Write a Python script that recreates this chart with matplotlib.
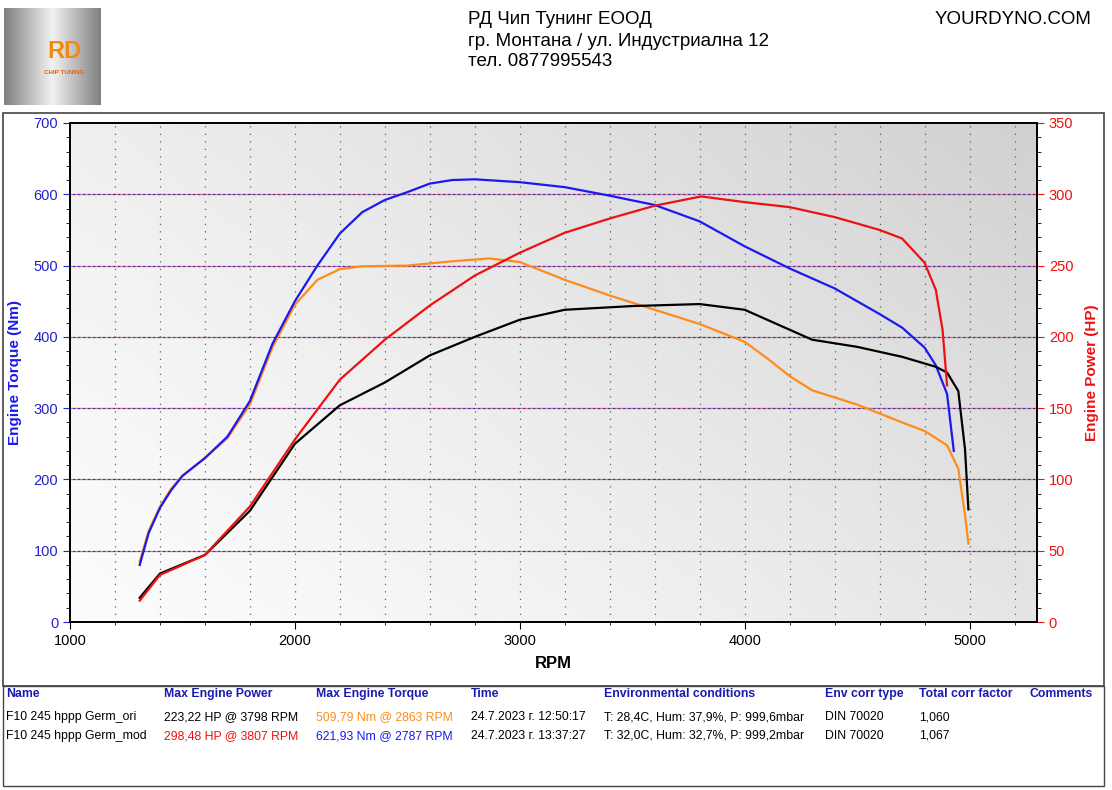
import numpy as np
import matplotlib.pyplot as plt
from matplotlib.patches import Rectangle

# mod torque (Nm)
mod_tq_rpm = [1310, 1350, 1400, 1450, 1500, 1600, 1700, 1800, 1900, 2000, 2100, 2200, 2300, 2400, 2500, 2600, 2700,
              2800, 2900, 3000, 3200, 3400, 3600, 3800, 4000, 4200, 4400, 4600, 4700, 4800, 4850, 4900, 4930]
mod_tq = [80, 125, 160, 185, 205, 230, 260, 310, 390, 450, 500, 545, 575, 592, 603, 615, 620,
          621, 619, 617, 610, 598, 585, 562, 527, 496, 468, 432, 413, 385, 360, 320, 240]
# ori torque (Nm)
ori_tq_rpm = [1310, 1350, 1400, 1450, 1500, 1600, 1700, 1800, 1900, 2000, 2100, 2200, 2300, 2500, 2700, 2863, 3000,
              3200, 3400, 3600, 3800, 4000, 4100, 4200, 4300, 4500, 4700, 4800, 4900, 4950, 4980, 4995]
ori_tq = [85, 128, 162, 187, 205, 230, 258, 305, 385, 445, 480, 495, 499, 500, 506, 510, 505,
          480, 458, 438, 418, 393, 370, 345, 325, 305, 280, 268, 248, 215, 150, 110]
# ori power (HP)
ori_hp_rpm = [1310, 1400, 1600, 1800, 2000, 2200, 2400, 2600, 2800, 3000, 3200, 3500, 3800, 4000, 4200, 4300,
              4500, 4700, 4850, 4900, 4950, 4980, 4995]
ori_hp = [17, 34, 47, 78, 125, 152, 168, 187, 200, 212, 219, 221.6, 223, 219, 205, 198, 193, 186, 179, 175, 162, 121, 79]
# mod power (HP)
mod_hp_rpm = [1310, 1400, 1600, 1800, 2000, 2200, 2400, 2600, 2800, 3000, 3200, 3400, 3600, 3807, 4000, 4200,
              4400, 4600, 4700, 4800, 4850, 4880, 4900]
mod_hp = [15, 33, 47, 81, 128, 170, 198, 222, 243, 259, 273, 283, 292, 298.5, 294.5, 291, 284, 275, 269, 252, 233, 205, 166]

header = ["Name", "Max Engine Power", "Max Engine Torque", "Time", "Environmental conditions",
          "Env corr type", "Total corr factor", "Comments"]
rows = [
    ["F10 245 hppp Germ_ori", "223,22 HP @ 3798 RPM", "509,79 Nm @ 2863 RPM", "24.7.2023 г. 12:50:17",
     "T: 28,4C, Hum: 37,9%, P: 999,6mbar", "DIN 70020", "1,060", ""],
    ["F10 245 hppp Germ_mod", "298,48 HP @ 3807 RPM", "621,93 Nm @ 2787 RPM", "24.7.2023 г. 13:37:27",
     "T: 32,0C, Hum: 32,7%, P: 999,2mbar", "DIN 70020", "1,067", ""],
]
col_x = [6, 164, 316, 471, 604, 825, 919, 1029]

plt.rcParams['font.family'] = ['Liberation Sans', 'DejaVu Sans']
fig = plt.figure(figsize=(11.12, 7.9), dpi=100)
W, H = 1112, 790

def fx(x): return x / W
def fy(y): return 1 - y / H

# header
fig.text(fx(468), fy(20), "РД Чип Тунинг ЕООД", fontsize=13.5, va='center')
fig.text(fx(468), fy(41), "гр. Монтана / ул. Индустриална 12", fontsize=13.5, va='center')
fig.text(fx(468), fy(62), "тел. 0877995543", fontsize=13.5, va='center')
fig.text(fx(1091), fy(20), "YOURDYNO.COM", fontsize=13.5, va='center', ha='right')

# logo
lax = fig.add_axes([fx(4), fy(105), 97 / W, 97 / H])
g = np.abs(np.linspace(-1, 1, 100))[None, :] * np.ones((100, 1))
lax.imshow(0.95 - 0.45 * g, cmap='gray', vmin=0, vmax=1, extent=[0, 1, 0, 1], aspect='auto')
lax.text(0.62, 0.55, "RD", color='#f08a10', fontsize=17, fontweight='bold', ha='center', va='center')
lax.text(0.62, 0.33, "CHIP TUNING", color='#e06010', fontsize=4.5, fontweight='bold', ha='center', va='center')
lax.axis('off')

# frames
fig.patches.append(Rectangle((fx(3), fy(686)), 1101 / W, 573 / H, transform=fig.transFigure,
                             fill=False, edgecolor='#444444', lw=1.2))
fig.patches.append(Rectangle((fx(3), fy(786)), 1101 / W, 100 / H, transform=fig.transFigure,
                             fill=False, edgecolor='#444444', lw=1.0))

ax = fig.add_axes([fx(70), fy(622), 967 / W, 499 / H])
ax.set_xlim(1000, 5300)
ax.set_ylim(0, 700)
# background gradient
xx, yy = np.meshgrid(np.linspace(0, 1, 200), np.linspace(0, 1, 200))
bg = 0.985 - 0.17 * (0.6 * xx + 0.4 * (1 - yy)) ** 1.3
ax.imshow(bg, cmap='gray', vmin=0, vmax=1, extent=[0, 1, 0, 1], transform=ax.transAxes,
          aspect='auto', origin='upper', zorder=0)

for r in range(1200, 5300, 200):
    ax.axvline(r, color='#556655', ls=(0, (1, 5)), lw=0.9, zorder=1)
for t in range(100, 700, 100):
    ax.axhline(t, color='#ee6688', ls=(0, (2, 2)), lw=0.9, zorder=1)
    ax.axhline(t, color='#3333aa', ls=(2, (2, 2)), lw=0.9, zorder=1)

ax.plot(ori_tq_rpm, ori_tq, color='#ff8c1a', lw=1.6, zorder=3)
ax.plot(mod_tq_rpm, mod_tq, color='#1a1aee', lw=1.6, zorder=3)

ax2 = ax.twinx()
ax2.set_ylim(0, 350)
ax2.plot(ori_hp_rpm, ori_hp, color='black', lw=1.6, zorder=3)
ax2.plot(mod_hp_rpm, mod_hp, color='#ee1111', lw=1.6, zorder=3)

ax.set_xticks([1000, 2000, 3000, 4000, 5000])
ax.set_xticks(range(1000, 5300, 200), minor=True)
ax.set_yticks(range(0, 701, 100))
ax.set_yticks(range(0, 701, 20), minor=True)
ax2.set_yticks(range(0, 351, 50))
ax2.set_yticks(range(0, 351, 10), minor=True)
ax.tick_params(axis='y', colors='#2222cc', labelsize=10.5, direction='out', length=5)
ax.tick_params(axis='y', which='minor', colors='black', length=3)
ax.tick_params(axis='x', labelsize=10.5, length=5)
ax2.tick_params(axis='y', colors='#ee1111', labelsize=10.5, length=5)
ax2.tick_params(axis='y', which='minor', colors='black', length=3)
for a in (ax, ax2):
    for s in a.spines.values():
        s.set_linewidth(1.3)
ax.set_xlabel("RPM", fontsize=12, fontweight='bold', labelpad=6)
ax.set_ylabel("Engine Torque (Nm)", fontsize=11, fontweight='bold', color='#1a1aee', labelpad=8)
ax2.set_ylabel("Engine Power (HP)", fontsize=11, fontweight='bold', color='#ee1111', labelpad=8)

# table
for x, h in zip(col_x, header):
    fig.text(fx(x), fy(694), h, fontsize=8.8, fontweight='bold', color='#1a1ab0', va='center')
cell_colors = {(0, 2): '#ff8c1a', (1, 1): '#ee1111', (1, 2): '#1a1aee'}
for i, row in enumerate(rows):
    y = 717 + i * 19
    for j, (x, v) in enumerate(zip(col_x, row)):
        fig.text(fx(x), fy(y), v, fontsize=8.8, va='center', color=cell_colors.get((i, j), 'black'))

fig.savefig("out.png", dpi=100)
